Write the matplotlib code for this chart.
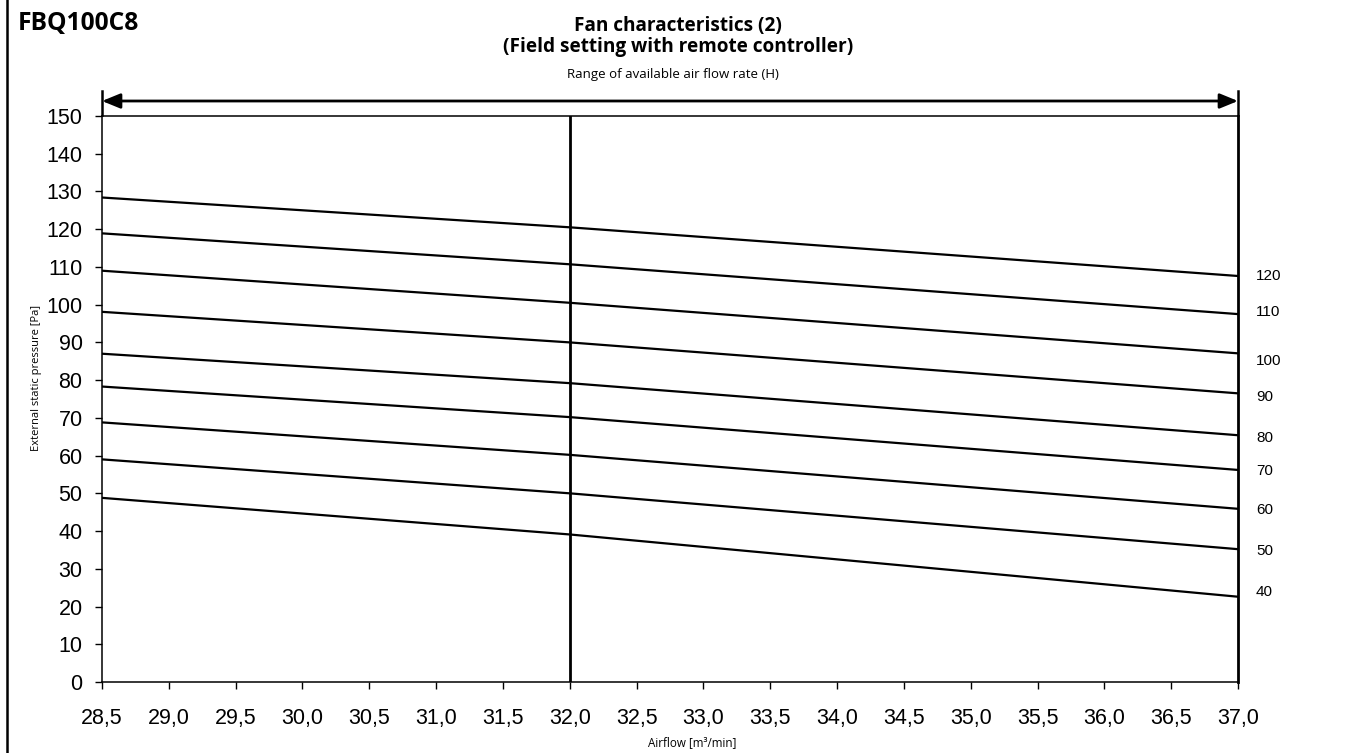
import matplotlib
matplotlib.use("Agg")
import matplotlib.pyplot as plt
from matplotlib.lines import Line2D
from matplotlib.ticker import FixedLocator, FuncFormatter

# ---- data ----
airflow = [28.5, 32.0, 37.0]
setting_labels = [120, 110, 100, 90, 80, 70, 60, 50, 40]
esp_120 = [128.4, 120.5, 107.6]
esp_110 = [118.9, 110.7, 97.5]
esp_100 = [109.0, 100.5, 87.1]
esp_90 = [98.1, 90.0, 76.5]
esp_80 = [87.0, 79.2, 65.4]
esp_70 = [78.3, 70.2, 56.2]
esp_60 = [68.8, 60.2, 45.9]
esp_50 = [59.0, 50.0, 35.2]
esp_40 = [48.8, 39.1, 22.6]
label_y = [107.6, 98.1, 85.0, 75.5, 64.6, 55.9, 45.6, 34.7, 23.8]
x_ticks = [28.5, 29.0, 29.5, 30.0, 30.5, 31.0, 31.5, 32.0, 32.5, 33.0, 33.5,
           34.0, 34.5, 35.0, 35.5, 36.0, 36.5, 37.0]
y_ticks = list(range(0, 151, 10))
rated_airflow = 32.0

series = [esp_120, esp_110, esp_100, esp_90, esp_80, esp_70, esp_60, esp_50, esp_40]

W, H = 1356, 753
fig = plt.figure(figsize=(W / 100, H / 100), dpi=100)
ax = fig.add_axes([102 / W, 1 - 682 / H, (1238 - 102) / W, (682 - 116) / H])

for s in series:
    ax.plot(airflow, s, color="black", lw=1.6, solid_capstyle="butt")
ax.plot([rated_airflow, rated_airflow], [0, 150], color="black", lw=2.0)

ax.set_xlim(28.5, 37.0)
ax.set_ylim(0, 150)
ax.xaxis.set_major_locator(FixedLocator(x_ticks))
ax.yaxis.set_major_locator(FixedLocator(y_ticks))
ax.xaxis.set_major_formatter(FuncFormatter(lambda v, p: f"{v:.1f}".replace(".", ",")))
ax.yaxis.set_major_formatter(FuncFormatter(lambda v, p: f"{int(v)}"))
ax.tick_params(axis="both", direction="out", length=5, width=1, color="black",
               labelsize=15.5)
for lab in ax.get_xticklabels() + ax.get_yticklabels():
    lab.set_fontfamily("Liberation Sans")
ax.tick_params(axis="x", pad=14)
ax.tick_params(axis="y", pad=9)
for sp in ["left", "bottom", "top"]:
    ax.spines[sp].set_linewidth(1.1)
ax.spines["right"].set_linewidth(2.0)

# right-hand setting labels
for lab, yv in zip(setting_labels, label_y):
    ax.annotate(str(lab), xy=(37.0, yv), xycoords="data",
                xytext=(13, 0), textcoords="offset points",
                ha="left", va="center", fontsize=11,
                family="Liberation Sans", annotation_clip=False)

# axis labels
ax.set_ylabel("External static pressure [Pa]", fontsize=8, family="Open Sans")
ax.yaxis.set_label_coords(-60 / (1238 - 102), (682 - 378) / 566)
fig.text(692 / W, 1 - 746 / H, "Airflow [m³/min]", ha="center", va="baseline",
         fontsize=8.4, family="Open Sans")

# range arrow
tr = ax.get_xaxis_transform()
y_arrow = (682 - 101) / 566
ax.annotate("", xy=(28.5, y_arrow), xytext=(37.0, y_arrow), xycoords=tr,
            textcoords=tr, annotation_clip=False,
            arrowprops=dict(arrowstyle="<|-|>,head_length=1.1,head_width=0.45",
                            color="black", lw=2.0, shrinkA=0, shrinkB=0))
y_bar0 = (682 - 115) / 566
y_bar1 = (682 - 91) / 566
for xv in [28.5, 37.0]:
    ax.plot([xv, xv], [y_bar0, y_bar1], transform=tr, color="black", lw=1.8,
            clip_on=False)

# titles
fig.text(18 / W, 1 - 30.5 / H, "FBQ100C8", ha="left", va="baseline",
         fontsize=17.7, fontweight="bold", family="Open Sans")
fig.text(678 / W, 1 - 30.5 / H, "Fan characteristics (2)", ha="center",
         va="baseline", fontsize=13.7, fontweight="bold", family="Open Sans")
fig.text(678 / W, 1 - 52 / H, "(Field setting with remote controller)", ha="center",
         va="baseline", fontsize=13.7, fontweight="bold", family="Open Sans")
fig.text(673 / W, 1 - 78 / H, "Range of available air flow rate (H)", ha="center",
         va="baseline", fontsize=9.5, family="Open Sans")

# left border line of the page
fig.add_artist(Line2D([7 / W, 7 / W], [0, 1], transform=fig.transFigure,
                      color="black", lw=1.8))

fig.savefig("out.png", dpi=100)
